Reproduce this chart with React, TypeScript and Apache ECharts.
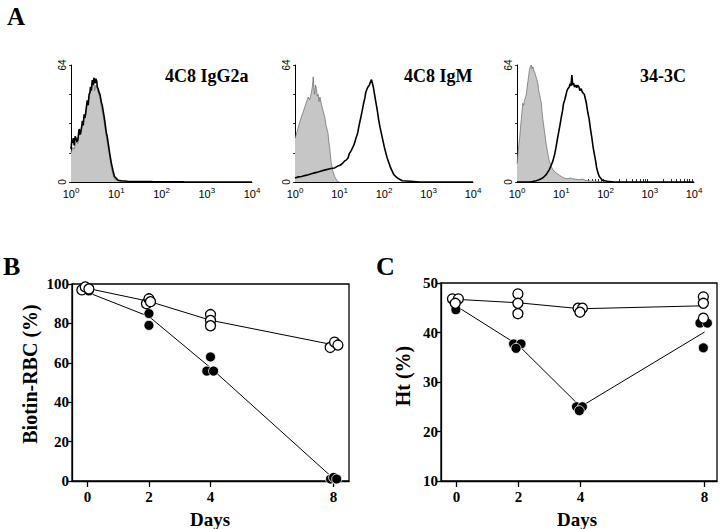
import React, { useEffect, useRef } from "react";
import * as echarts from "echarts";

// ---------- Panel A: flow cytometry histograms (x = log10 fluorescence decade, y = count) ----------
const histTitles = ["4C8 IgG2a", "4C8 IgM", "34-3C"];
const histXLabels = [0, 1, 2, 3, 4];
const histYLabels = [0, 64];

const hist1Gray = [[0,16],[0.04,19],[0.07,18],[0.11,22],[0.15,21],[0.18,27],[0.22,26],[0.25,31],[0.29,35],[0.33,37],[0.36,43],[0.4,46],[0.43,50],[0.47,54],[0.5,57],[0.52,50],[0.55,53],[0.57,52],[0.6,49],[0.64,46],[0.67,41],[0.71,36],[0.75,30],[0.78,25],[0.82,19],[0.86,13],[0.89,8],[0.93,4],[0.96,2],[1.0,1],[1.05,0.5],[1.2,0]];
const hist1Black = [[0,18],[0.02,23],[0.04,21.5],[0.05,24],[0.07,20],[0.09,25],[0.11,24],[0.13,22],[0.15,23],[0.17,27],[0.18,29],[0.2,26],[0.22,28],[0.24,31],[0.25,33.5],[0.27,31],[0.29,37],[0.31,35],[0.33,39],[0.35,43],[0.36,44.6],[0.38,42],[0.4,48],[0.42,49],[0.43,52],[0.45,50],[0.47,55.7],[0.49,53],[0.51,57],[0.53,54],[0.55,56.5],[0.57,55],[0.58,52],[0.6,51],[0.62,49],[0.64,48],[0.67,43.7],[0.69,42],[0.71,39],[0.73,36],[0.75,32.7],[0.78,27],[0.8,25],[0.82,21.6],[0.86,15],[0.89,10.5],[0.93,6],[0.96,3],[1.0,2],[1.04,1],[1.11,0.7],[1.25,0.4],[1.47,0.3],[1.8,0.2],[2.5,0.1],[4,0]];

const hist2Gray = [[0,24],[0.04,27],[0.074,30],[0.11,33],[0.148,36],[0.18,38],[0.22,41],[0.26,44],[0.296,46.5],[0.33,45],[0.37,49],[0.39,52],[0.41,57.5],[0.43,50],[0.44,48],[0.46,53],[0.48,51],[0.5,47],[0.52,48],[0.54,44],[0.56,46.5],[0.59,43],[0.63,39],[0.67,35.4],[0.7,30.8],[0.74,27],[0.76,22],[0.78,18.8],[0.81,11.4],[0.85,6],[0.89,3],[0.95,0.4],[1.0,0]];
const hist2Black = [[0,2.2],[0.08,2.8],[0.15,3],[0.22,3.5],[0.3,4],[0.37,4.5],[0.44,5],[0.52,5.5],[0.59,6],[0.66,6.5],[0.74,7],[0.81,7.4],[0.89,7.7],[0.96,8.7],[1.0,9],[1.04,9.6],[1.08,10.5],[1.11,11.4],[1.15,12],[1.19,13],[1.22,15.5],[1.26,17],[1.3,19],[1.33,20.7],[1.37,24],[1.41,27],[1.44,31],[1.48,35.4],[1.51,39],[1.54,42.8],[1.57,46],[1.59,49],[1.62,51],[1.64,52],[1.67,53],[1.7,55],[1.72,56],[1.74,54],[1.76,52],[1.78,49],[1.81,44.6],[1.85,39],[1.88,34],[1.91,30],[1.96,24.4],[2.01,18.8],[2.07,13.3],[2.15,7.7],[2.22,4],[2.3,2.2],[2.41,0.7],[2.59,0.4],[2.8,0],[4,0]];

const hist3Gray = [[0,10],[0.02,15],[0.04,20],[0.06,24],[0.08,30],[0.1,35],[0.13,43],[0.15,42],[0.17,44.6],[0.19,46],[0.21,48],[0.23,52],[0.25,55.7],[0.28,61],[0.3,63],[0.32,64],[0.34,62],[0.36,63],[0.38,61],[0.4,60],[0.43,57.5],[0.45,56],[0.47,54],[0.49,50],[0.51,48],[0.55,43],[0.58,35],[0.62,28],[0.66,20.7],[0.7,15],[0.73,11.4],[0.77,8.7],[0.81,6.8],[0.88,5],[0.96,3.7],[1.03,2.6],[1.09,2],[1.15,1.8],[1.2,2.2],[1.26,1.8],[1.33,1.5],[1.41,1.3],[1.48,1.6],[1.56,0.7],[1.78,0.4],[2,0]];
const hist3Black = [[0,0],[0.28,0],[0.35,0.3],[0.43,0.7],[0.5,1.2],[0.58,2.2],[0.66,4],[0.73,6.8],[0.77,9],[0.81,11.4],[0.85,15],[0.88,18.8],[0.91,23],[0.94,27],[0.97,31],[1.0,35.4],[1.03,39],[1.05,42.8],[1.08,45],[1.11,48],[1.13,50],[1.15,51],[1.18,52],[1.2,53.8],[1.22,52.5],[1.24,58.5],[1.26,53],[1.28,54],[1.3,52],[1.33,53],[1.35,51.5],[1.37,53],[1.4,52],[1.42,50],[1.45,51],[1.48,49],[1.52,48],[1.55,45],[1.57,42.8],[1.6,38],[1.63,34.5],[1.66,29],[1.69,24.4],[1.72,19],[1.75,15],[1.78,11],[1.8,7.7],[1.83,5],[1.86,3],[1.93,1],[2.04,0.4],[2.2,0],[4,0]];

// ---------- Panel B: Biotin-RBC (%) vs Days ----------
const dayTicks = [0, 2, 4, 8];
const bOpenPoints = [[-0.18,97],[-0.07,98.5],[0.05,97.5],[1.92,90],[2.0,92.5],[2.05,91],[4.0,84.5],[4.0,81.5],[4.0,78.8],[7.89,67.8],[8.03,70.5],[8.14,69]];
const bFilledPoints = [[-0.15,97],[0.05,96.5],[2.0,85],[2.0,79],[4.0,63],[3.88,55.8],[4.1,55.8],[7.9,1],[8.0,1.8],[8.1,1]];
const bOpenMean = [[0,97.8],[2,91.2],[4,81.6],[8,69.1]];
const bFilledMean = [[0,95.8],[2,83.5],[4,57.5],[8,1.2]];

// ---------- Panel C: Ht (%) vs Days ----------
const cOpenPoints = [[-0.13,46.8],[0.06,46.8],[-0.04,45.9],[1.98,47.8],[1.98,45.9],[1.98,43.8],[3.92,44.9],[4.06,44.9],[3.98,44.1],[7.96,47.2],[7.96,45.9],[7.96,42.9]];
const cFilledPoints = [[-0.02,44.6],[1.84,37.7],[2.08,37.7],[1.92,36.8],[3.87,25],[4.06,25],[3.96,24.2],[7.85,41.9],[8.09,41.9],[7.96,36.9]];
const cOpenMean = [[0,46.7],[2,46.0],[4,44.8],[8,45.4]];
const cFilledMean = [[0,45.3],[2,37.4],[4,25],[8,40.1]];

const SERIF = "Liberation Serif";
const SANS = "Liberation Sans";

function histMinorTicks() {
  const out: number[] = [];
  for (let n = 0; n < 4; n++) {
    for (let k = 2; k <= 9; k++) out.push(n + Math.log10(k));
  }
  return out;
}

export default function App() {
  const ref = useRef<HTMLDivElement>(null);

  useEffect(() => {
    if (!ref.current) return;
    const chart = echarts.init(ref.current, null, { renderer: "svg" });

    const histGrids = [
      { left: 71, top: 65, width: 181, height: 117 },
      { left: 295, top: 65, width: 178, height: 117 },
      { left: 517, top: 65, width: 177, height: 117 },
    ];

    const histX = (i: number, minor: boolean) => ({
      type: "value",
      gridIndex: i,
      min: 0,
      max: 4,
      axisLine: { show: true, onZero: false, lineStyle: { color: "#000", width: 1 } },
      axisTick: minor
        ? { show: true, inside: true, length: 3, customValues: histMinorTicks(), lineStyle: { color: "#000", width: 0.8 } }
        : { show: false },
      splitLine: { show: false },
      axisLabel: {
        customValues: histXLabels,
        formatter: (v: number) => `{b|10}{s|${v}}`,
        margin: 4,
        color: "#000",
        rich: {
          b: { fontFamily: SANS, fontSize: 11, color: "#000", lineHeight: 15 },
          s: { fontFamily: SANS, fontSize: 8, color: "#000", verticalAlign: "top", lineHeight: 15, padding: [0, 0, 5, 0] },
        },
      },
    });

    const histY = (i: number) => ({
      type: "value",
      gridIndex: i,
      min: 0,
      max: 64,
      interval: 16,
      axisLine: { show: true, onZero: false, lineStyle: { color: "#000", width: 1 } },
      axisTick: { show: true, length: 2, lineStyle: { color: "#000", width: 0.8 } },
      splitLine: { show: false },
      axisLabel: {
        customValues: histYLabels,
        rotate: 90,
        margin: 4,
        fontFamily: SANS,
        fontSize: 10,
        color: "#000",
      },
    });

    const panelX = (i: number, max: number) => ({
      type: "value",
      gridIndex: i,
      min: -0.5,
      max,
      axisLine: { show: true, onZero: false, lineStyle: { color: "#000", width: 1.3 } },
      axisTick: { show: true, inside: false, length: 6, customValues: dayTicks, lineStyle: { color: "#000", width: 1.3 } },
      splitLine: { show: false },
      axisLabel: {
        customValues: dayTicks,
        margin: 8,
        fontFamily: SERIF,
        fontWeight: "bold",
        fontSize: 15,
        color: "#000",
      },
    });

    const panelY = (i: number, min: number, max: number, interval: number) => ({
      type: "value",
      gridIndex: i,
      min,
      max,
      interval,
      axisLine: { show: true, onZero: false, lineStyle: { color: "#000", width: 1.3 } },
      axisTick: { show: true, length: 5, lineStyle: { color: "#000", width: 1.3 } },
      splitLine: { show: false },
      axisLabel: {
        margin: 3,
        fontFamily: SERIF,
        fontWeight: "bold",
        fontSize: 15,
        color: "#000",
      },
    });

    const histSeries = (i: number, gray: number[][], black: number[][]) => [
      {
        type: "line",
        xAxisIndex: i,
        yAxisIndex: i,
        data: gray,
        symbol: "none",
        lineStyle: { color: "#666", width: 0.7 },
        areaStyle: { color: "#c6c6c6", opacity: 1 },
        z: 2,
      },
      {
        type: "line",
        xAxisIndex: i,
        yAxisIndex: i,
        data: black,
        symbol: "none",
        lineStyle: { color: "#000", width: 1.6 },
        z: 3,
      },
    ];

    const meanLine = (i: number, data: number[][]) => ({
      type: "line",
      xAxisIndex: i,
      yAxisIndex: i,
      data,
      symbol: "none",
      lineStyle: { color: "#000", width: 1 },
      z: 2,
    });

    const dots = (i: number, data: number[][], filled: boolean) => ({
      type: "scatter",
      xAxisIndex: i,
      yAxisIndex: i,
      data,
      symbol: "circle",
      symbolSize: 10,
      itemStyle: filled
        ? { color: "#000", borderColor: "#fff", borderWidth: 0.8, opacity: 1 }
        : { color: "#fff", borderColor: "#000", borderWidth: 1.3, opacity: 1 },
      z: filled ? 3 : 4,
    });

    const boldText = (text: string, x: number, y: number, size: number, align = "left", rotation = 0) => ({
      type: "text",
      x,
      y,
      rotation,
      style: {
        text,
        font: `bold ${size}px "${SERIF}"`,
        fill: "#000",
        textAlign: align,
        textVerticalAlign: "middle",
      },
    });

    const option: any = {
      animation: false,
      backgroundColor: "#fff",
      grid: [
        ...histGrids,
        { left: 72, top: 284, width: 277, height: 197, show: true, borderColor: "#000", borderWidth: 1.3, backgroundColor: "transparent" },
        { left: 441, top: 283, width: 276, height: 198, show: true, borderColor: "#000", borderWidth: 1.3, backgroundColor: "transparent" },
      ],
      xAxis: [histX(0, false), histX(1, false), histX(2, true), panelX(3, 8.5), panelX(4, 8.4)],
      yAxis: [histY(0), histY(1), histY(2), panelY(3, 0, 100, 20), panelY(4, 10, 50, 10)],
      series: [
        ...histSeries(0, hist1Gray, hist1Black),
        ...histSeries(1, hist2Gray, hist2Black),
        ...histSeries(2, hist3Gray, hist3Black),
        meanLine(3, bFilledMean),
        meanLine(3, bOpenMean),
        dots(3, bFilledPoints, true),
        dots(3, bOpenPoints, false),
        meanLine(4, cFilledMean),
        meanLine(4, cOpenMean),
        dots(4, cFilledPoints, true),
        dots(4, cOpenPoints, false),
      ],
      graphic: [
        boldText("A", 7, 16, 25),
        boldText(histTitles[0], 165, 76, 18),
        boldText(histTitles[1], 404, 76, 18),
        boldText(histTitles[2], 640, 76, 18),
        boldText("B", 3, 266, 26),
        boldText("C", 376, 266, 26),
        boldText("Days", 210, 519, 19, "center"),
        boldText("Days", 577, 519, 19, "center"),
        boldText("Biotin-RBC (%)", 30, 374, 20, "center", Math.PI / 2),
        boldText("Ht (%)", 403, 376, 20, "center", Math.PI / 2),
      ],
    };

    chart.setOption(option);
    return () => chart.dispose();
  }, []);

  return (
    <div
      ref={ref}
      style={{ position: "absolute", left: 0, top: 0, width: 720, height: 529, background: "#fff" }}
    />
  );
}
